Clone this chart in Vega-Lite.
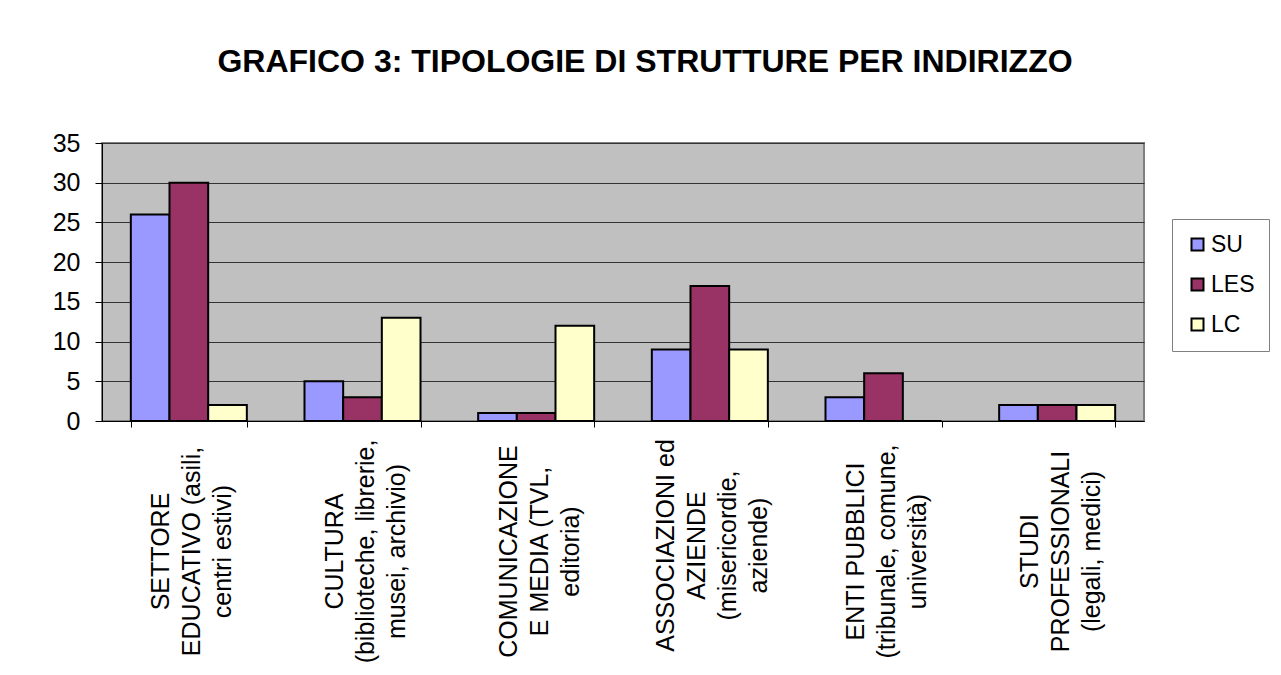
{
  "$schema": "https://vega.github.io/schema/vega-lite/v6.json",
  "autosize": {"type": "none"},
  "padding": {"left": 102, "top": 143, "right": 137, "bottom": 254},
  "width": 1042,
  "height": 278,
  "background": "white",
  "title": {
    "text": "GRAFICO 3: TIPOLOGIE DI STRUTTURE PER INDIRIZZO",
    "font": "Liberation Sans",
    "fontSize": 32,
    "fontWeight": "bold",
    "color": "#000000",
    "anchor": "middle",
    "frame": "group",
    "dx": 22,
    "offset": 52
  },
  "data": {
    "values": [
      {"cat": "SETTORE|EDUCATIVO (asili,|centri estivi)", "serie": "SU", "val": 26},
      {"cat": "SETTORE|EDUCATIVO (asili,|centri estivi)", "serie": "LES", "val": 30},
      {"cat": "SETTORE|EDUCATIVO (asili,|centri estivi)", "serie": "LC", "val": 2},
      {"cat": "CULTURA|(biblioteche, librerie,|musei, archivio)", "serie": "SU", "val": 5},
      {"cat": "CULTURA|(biblioteche, librerie,|musei, archivio)", "serie": "LES", "val": 3},
      {"cat": "CULTURA|(biblioteche, librerie,|musei, archivio)", "serie": "LC", "val": 13},
      {"cat": "COMUNICAZIONE|E MEDIA (TVL,|editoria)", "serie": "SU", "val": 1},
      {"cat": "COMUNICAZIONE|E MEDIA (TVL,|editoria)", "serie": "LES", "val": 1},
      {"cat": "COMUNICAZIONE|E MEDIA (TVL,|editoria)", "serie": "LC", "val": 12},
      {"cat": "ASSOCIAZIONI ed|AZIENDE|(misericordie,|aziende)", "serie": "SU", "val": 9},
      {"cat": "ASSOCIAZIONI ed|AZIENDE|(misericordie,|aziende)", "serie": "LES", "val": 17},
      {"cat": "ASSOCIAZIONI ed|AZIENDE|(misericordie,|aziende)", "serie": "LC", "val": 9},
      {"cat": "ENTI PUBBLICI|(tribunale, comune,|università)", "serie": "SU", "val": 3},
      {"cat": "ENTI PUBBLICI|(tribunale, comune,|università)", "serie": "LES", "val": 6},
      {"cat": "ENTI PUBBLICI|(tribunale, comune,|università)", "serie": "LC", "val": 0},
      {"cat": "STUDI|PROFESSIONALI|(legali, medici)", "serie": "SU", "val": 2},
      {"cat": "STUDI|PROFESSIONALI|(legali, medici)", "serie": "LES", "val": 2},
      {"cat": "STUDI|PROFESSIONALI|(legali, medici)", "serie": "LC", "val": 2}
    ]
  },
  "layer": [
    {
      "mark": {"type": "bar", "stroke": "#000000", "strokeWidth": 2},
      "encoding": {
        "x": {
          "field": "cat",
          "type": "nominal",
          "sort": null,
          "scale": {"paddingInner": 0.332, "paddingOuter": 0.166},
          "axis": {
            "orient": "bottom",
            "labelExpr": "indexof(datum.label, 'ASSOCIAZIONI') >= 0 ? '' : split(datum.label, '|')",
            "labelOffset": -28,
            "tickBand": "extent",
            "tickSize": 6,
            "tickColor": "#000000",
            "domainColor": "#000000",
            "domainWidth": 1
          }
        },
        "xOffset": {
          "field": "serie",
          "type": "nominal",
          "sort": ["SU", "LES", "LC"],
          "scale": {"paddingInner": 0, "paddingOuter": 0}
        },
        "y": {
          "field": "val",
          "type": "quantitative",
          "scale": {"domain": [0, 35], "nice": false},
          "axis": {
            "title": null,
            "values": [0, 5, 10, 15, 20, 25, 30, 35],
            "labelFont": "Liberation Sans",
            "labelFontSize": 25,
            "labelColor": "#000000",
            "labelPadding": 15,
            "tickSize": 7,
            "tickColor": "#000000",
            "domainColor": "#000000",
            "grid": true,
            "gridColor": "#333333",
            "gridWidth": 1
          }
        },
        "color": {
          "field": "serie",
          "type": "nominal",
          "sort": ["SU", "LES", "LC"],
          "scale": {"domain": ["SU", "LES", "LC"], "range": ["#9999FF", "#993366", "#FFFFCC"]},
          "legend": {
            "title": null,
            "orient": "none",
            "legendX": 1070,
            "legendY": 76,
            "padding": 14,
            "strokeColor": "#808080",
            "fillColor": "#FFFFFF",
            "symbolType": "square",
            "symbolSize": 144,
            "symbolStrokeColor": "#000000",
            "symbolStrokeWidth": 2,
            "symbolOffset": 0,
            "labelFont": "Liberation Sans",
            "labelFontSize": 23,
            "labelColor": "#000000",
            "labelOffset": 2,
            "rowPadding": 16
          }
        }
      }
    },
    {
      "mark": {"type": "point", "opacity": 0},
      "encoding": {
        "x": {
          "field": "cat",
          "type": "nominal",
          "sort": null,
          "axis": {
            "orient": "bottom",
            "labelExpr": "indexof(datum.label, 'ASSOCIAZIONI') >= 0 ? split(datum.label, '|') : ''",
            "labelOffset": -44,
            "ticks": false,
            "domain": false
          }
        }
      }
    }
  ],
  "resolve": {"axis": {"x": "independent"}},
  "config": {
    "view": {"fill": "#C0C0C0", "stroke": "#808080", "strokeWidth": 2},
    "axisX": {
      "title": null,
      "grid": false,
      "labelAngle": 270,
      "labelAlign": "center",
      "labelBaseline": "middle",
      "labelFont": "Liberation Sans",
      "labelFontSize": 25,
      "labelLineHeight": 31,
      "labelColor": "#000000",
      "labelPadding": 124,
      "labelLimit": 0
    }
  }
}
